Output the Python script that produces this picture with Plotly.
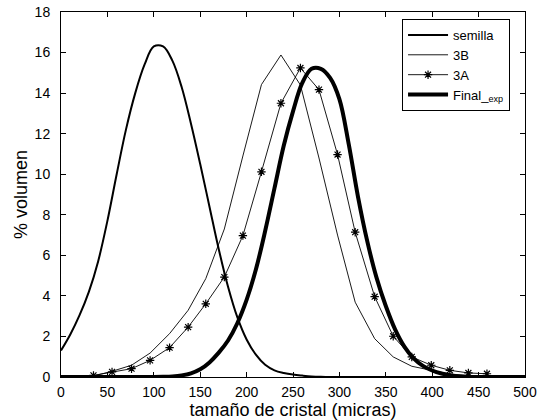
import plotly.graph_objects as go

# semilla (smooth)
semilla_x = [0, 10, 20, 30, 40, 50, 60, 70, 80, 90, 100, 110, 120, 130, 140, 150, 160, 170, 180,
             190, 200, 210, 220, 230, 240, 250, 260, 270, 280, 290, 300, 350, 400, 450, 500]
semilla_y = [1.31, 2.1, 3.05, 4.2, 5.7, 7.7, 10.0, 12.2, 14.0, 15.4, 16.3, 16.3, 15.6, 14.3,
             12.5, 10.5, 8.4, 6.3, 4.45, 2.95, 1.85, 1.1, 0.6, 0.33, 0.2, 0.12, 0.07, 0.03, 0.01, 0, 0, 0, 0, 0, 0]

# 3B and 3A share the same size grid
grid_x = [35, 55, 76, 96, 117, 137, 156, 176, 196, 216, 237, 258, 278, 298, 317, 338, 358, 378, 399, 419, 439, 459]
b3_y = [0.05, 0.28, 0.58, 1.18, 2.14, 3.29, 4.85, 7.3, 10.9, 14.42, 15.88, 14.4, 10.8, 7.0, 3.69, 1.89,
        0.99, 0.53, 0.33, 0.15, 0.07, 0.03]
a3_y = [0.08, 0.25, 0.41, 0.82, 1.45, 2.46, 3.61, 4.93, 6.97, 10.12, 13.5, 15.24, 14.17, 10.97, 7.14, 3.96,
        2.01, 0.99, 0.58, 0.33, 0.2, 0.16]

# Final_exp (smooth)
final_x = [0, 50, 100, 110, 120, 130, 140, 150, 160, 170, 180, 190, 200, 210, 220, 230, 240, 250, 260, 270,
           280, 290, 300, 310, 320, 330, 340, 350, 360, 370, 380, 390, 400, 410, 420, 430, 440, 470, 500]
final_y = [0, 0, 0, 0.01, 0.03, 0.08, 0.18, 0.38, 0.72, 1.2, 1.8, 2.65, 3.8, 5.3, 7.2, 9.3, 11.4, 13.1, 14.5, 15.2,
           15.2, 14.75, 13.7, 11.5, 8.9, 6.7, 4.9, 3.5, 2.35, 1.5, 0.92, 0.55, 0.32, 0.17, 0.08, 0.03, 0, 0, 0]

x_ticks = list(range(0, 501, 50))
y_ticks = list(range(0, 19, 2))

fig = go.Figure()
fig.add_trace(go.Scatter(x=semilla_x, y=semilla_y, mode="lines", name="semilla",
                         line=dict(color="black", width=2, shape="spline", smoothing=1)))
fig.add_trace(go.Scatter(x=grid_x, y=b3_y, mode="lines", name="3B",
                         line=dict(color="black", width=0.9)))
fig.add_trace(go.Scatter(x=grid_x, y=a3_y, mode="lines+markers", name="3A",
                         line=dict(color="black", width=0.9),
                         marker=dict(symbol="asterisk-open", size=7, color="black",
                                     line=dict(color="black", width=1.2))))
fig.add_trace(go.Scatter(x=final_x, y=final_y, mode="lines", name="Final_<sub>exp</sub>",
                         line=dict(color="black", width=4, shape="spline", smoothing=1)))

axis_common = dict(showline=True, linecolor="black", linewidth=1, mirror="ticks",
                   ticks="inside", ticklen=5, tickcolor="black", showgrid=False, zeroline=False,
                   automargin=False,
                   tickfont=dict(family="Liberation Sans, Arial, sans-serif", size=14, color="black"))

fig.update_layout(
    width=541, height=420,
    margin=dict(l=61, r=16, t=12, b=43),
    paper_bgcolor="white", plot_bgcolor="white",
    font=dict(family="Liberation Sans, Arial, sans-serif", color="black"),
    xaxis=dict(range=[0, 500], tickvals=x_ticks, ticklabelstandoff=2,
               title=dict(text="tamaño de cristal (micras)", font=dict(size=18), standoff=1),
               **axis_common),
    yaxis=dict(range=[0, 18], tickvals=y_ticks, ticklabelstandoff=7,
               title=dict(text="% volumen", font=dict(size=18), standoff=2),
               **axis_common),
    legend=dict(x=0.735, y=0.981, xanchor="left", yanchor="top", bgcolor="white",
                bordercolor="black", borderwidth=1, font=dict(size=13),
                tracegroupgap=0, itemwidth=40),
    showlegend=True,
)

fig.write_html("out.html")
